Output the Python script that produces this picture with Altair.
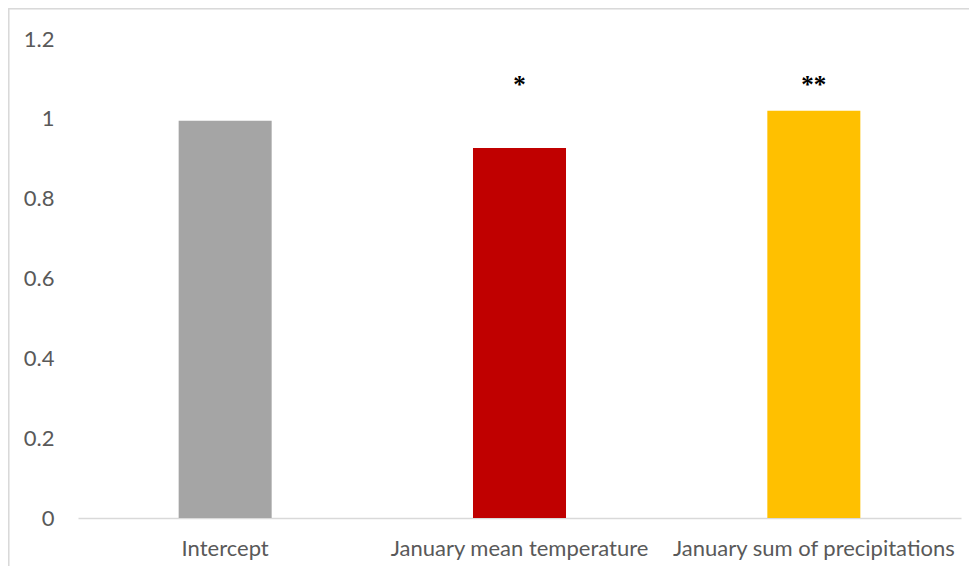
import altair as alt
import pandas as pd

categories = ["Intercept", "January mean temperature", "January sum of precipitations"]
values = [0.995, 0.927, 1.02]
colors = ["#a5a5a5", "#c00000", "#ffc000"]
stars = ["", "*", "**"]
star_y = [1.064, 1.064, 1.064]

df = pd.DataFrame({"cat": categories, "value": values, "star": stars, "star_y": star_y})

W, H = 883, 479
FONT = "Lato"
LABEL_COLOR = "#595959"

x_enc = alt.X(
    "cat:N",
    sort=categories,
    scale=alt.Scale(paddingInner=0.684, paddingOuter=0.342),
    axis=alt.Axis(
        title=None, labelAngle=0, ticks=False, domainColor="#d9d9d9", domainWidth=1.5,
        labelFont=FONT, labelFontSize=22, labelColor=LABEL_COLOR, labelPadding=20,
        labelLimit=0,
    ),
)

bars = alt.Chart(df).mark_bar().encode(
    x=x_enc,
    y=alt.Y(
        "value:Q",
        scale=alt.Scale(domain=[0, 1.2]),
        axis=alt.Axis(
            title=None, values=[0, 0.2, 0.4, 0.6, 0.8, 1, 1.2], format=".1~f",
            grid=False, ticks=False, domain=False,
            labelFont=FONT, labelFontSize=22, labelColor=LABEL_COLOR, labelPadding=24,
        ),
    ),
    color=alt.Color("cat:N", scale=alt.Scale(domain=categories, range=colors), legend=None),
)

text = alt.Chart(df).mark_text(
    font="Liberation Serif", fontWeight="bold", fontSize=25, baseline="alphabetic", color="black"
).encode(
    x=alt.X("cat:N", sort=categories),
    y=alt.Y("star_y:Q"),
    text="star:N",
)

border_left = alt.Chart(df).mark_rule(color="#d9d9d9", strokeWidth=1.5).encode(
    x=alt.value(-69.5), y=alt.value(-30.5), y2=alt.value(700)
)
border_top = alt.Chart(df).mark_rule(color="#d9d9d9", strokeWidth=1.5).encode(
    x=alt.value(-69.5), x2=alt.value(1000), y=alt.value(-30.5)
)

chart = alt.layer(bars, text, border_left, border_top).properties(
    width=W, height=H,
    padding={"left": 70, "top": 31, "right": 8, "bottom": 48},
    autosize=alt.AutoSizeParams(type="none"),
).configure_view(stroke=None)

chart.save("out.html", embed_options={"renderer": "svg", "actions": False})
